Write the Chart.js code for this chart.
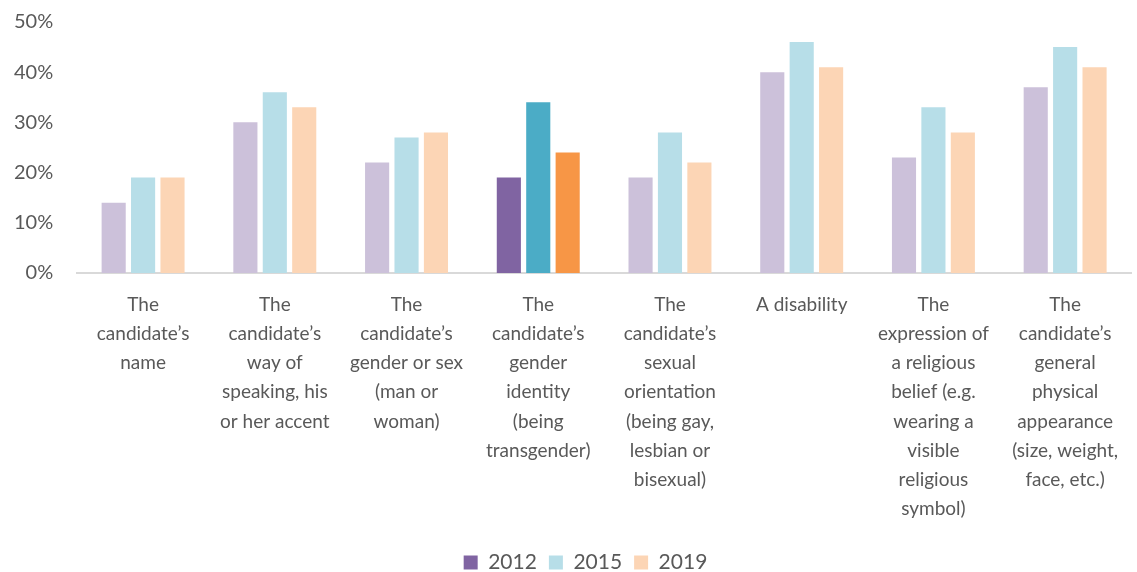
<!DOCTYPE html>
<html>
<head>
<meta charset="utf-8">
<script src="https://cdn.jsdelivr.net/npm/chart.js@4/dist/chart.umd.min.js"></script>
<style>
  html, body { margin: 0; padding: 0; background: #fff; }
  #wrap { width: 1137px; height: 572px; position: relative; }
</style>
</head>
<body>
<div id="wrap"><canvas id="chart"></canvas></div>
<script>
// ─── Datos ────────────────────────────────────────────────────────────────────
const categories = [
  ['The', 'candidate’s', 'name'],
  ['The', 'candidate’s', 'way of', 'speaking, his', 'or her accent'],
  ['The', 'candidate’s', 'gender or sex', '(man or', 'woman)'],
  ['The', 'candidate’s', 'gender', 'identity', '(being', 'transgender)'],
  ['The', 'candidate’s', 'sexual', 'orientation', '(being gay,', 'lesbian or', 'bisexual)'],
  ['A disability'],
  ['The', 'expression of', 'a religious', 'belief (e.g.', 'wearing a', 'visible', 'religious', 'symbol)'],
  ['The', 'candidate’s', 'general', 'physical', 'appearance', '(size, weight,', 'face, etc.)'],
];
const years = ['2012', '2015', '2019'];
const v2012 = [14, 30, 22, 19, 19, 40, 23, 37];
const v2015 = [19, 36, 27, 34, 28, 46, 33, 45];
const v2019 = [19, 33, 28, 24, 22, 41, 28, 41];
const yTicks = [0, 10, 20, 30, 40, 50];
const highlight = 3; // gender identity

const pale = ['#ccc1da', '#b7dee8', '#fcd5b5'];
const strong = ['#8064a2', '#4bacc6', '#f79646'];
const legendColors = ['#8064a2', '#b7dee8', '#fcd5b5'];

const colorsFor = i => categories.map((_, k) => k === highlight ? strong[i] : pale[i]);

const font = 'Lato, "Open Sans", sans-serif';

// la leyenda del original no está centrada en el lienzo
const shiftLegend = {
  id: 'shiftLegend',
  afterLayout: c => { c.legend.left += 25; c.legend.right += 25; },
};

new Chart(document.getElementById('chart'), {
  type: 'bar',
  data: {
    labels: categories,
    datasets: [v2012, v2015, v2019].map((d, i) => ({
      label: years[i], data: d, backgroundColor: colorsFor(i),
      categoryPercentage: 0.67, barPercentage: 0.82,
    })),
  },
  plugins: [shiftLegend],
  options: {
    responsive: true, maintainAspectRatio: false, animation: false,
    layout: { padding: { left: -10, right: 6, top: 0, bottom: -11 } },
    plugins: {
      tooltip: { enabled: false },
      legend: {
        position: 'bottom',
        labels: {
          color: '#595959', font: { family: font, size: 21 }, boxWidth: 14, boxHeight: 14, padding: 12,
          generateLabels: chart => years.map((y, i) => ({
            text: y, fillStyle: legendColors[i], strokeStyle: legendColors[i], lineWidth: 0,
            fontColor: '#595959', datasetIndex: i, hidden: false,
          })),
        },
      },
    },
    scales: {
      x: {
        grid: { display: false, drawTicks: false },
        border: { color: '#d9d9d9', width: 2 },
        ticks: { color: '#595959', font: { family: font, size: 19, lineHeight: 1.54 }, maxRotation: 0, autoSkip: false, padding: 17 },
        afterFit: s => { s.height -= 1; },
      },
      y: {
        min: 0, max: 50,
        afterBuildTicks: ax => { ax.ticks = yTicks.map(v => ({ value: v })); },
        afterFit: s => { s.paddingTop = 22; },
        grid: { display: false, drawTicks: false },
        border: { display: false },
        ticks: { color: '#595959', font: { family: font, size: 20 }, padding: 24, callback: v => v + '%' },
      },
    },
  },
});
</script>
</body>
</html>
